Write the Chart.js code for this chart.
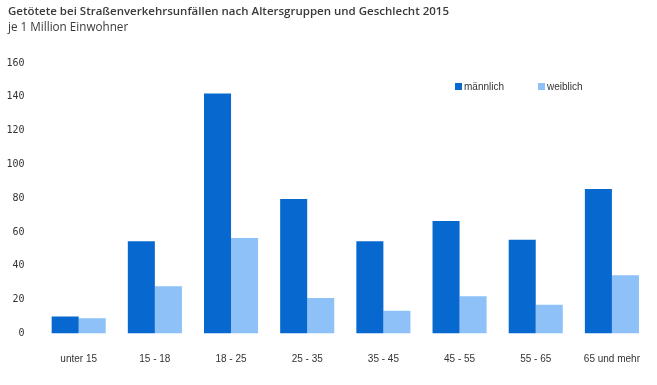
<!DOCTYPE html>
<html><head><meta charset="utf-8">
<script src="https://cdn.jsdelivr.net/npm/chart.js@4.4.1/dist/chart.umd.min.js"></script>
<style>html,body{margin:0;padding:0;background:#fff;}#wrap{width:657px;height:385px;position:relative;}</style>
</head><body><div id="wrap"><canvas id="c" width="657" height="385"></canvas></div>
<script>
const titleText = "Getötete bei Straßenverkehrsunfällen nach Altersgruppen und Geschlecht 2015";
const subtitleText = "je 1 Million Einwohner";
const categories = ["unter 15", "15 - 18", "18 - 25", "25 - 35", "35 - 45", "45 - 55", "55 - 65", "65 und mehr"];
const seriesNames = ["männlich", "weiblich"];
const maleValues = [10, 54.5, 142, 79.5, 54.5, 66.5, 55.5, 85.5];
const femaleValues = [9, 28, 56.5, 21, 13.5, 22, 17, 34.5];
const yTicks = [0, 20, 40, 60, 80, 100, 120, 140, 160];

const maleColor = "#0768d0";
const femaleColor = "#8dc1f7";

const overlay = {
  id: "overlay",
  afterDraw(chart) {
    const ctx = chart.ctx;
    ctx.save();
    ctx.fillStyle = "#3a3a3a";
    ctx.textBaseline = "middle";
    ctx.textAlign = "left";
    ctx.font = "600 11.5px 'Open Sans'";
    ctx.fillText(titleText, 8, 12);
    ctx.font = "11.7px 'Open Sans'";
    ctx.fillText(subtitleText, 8, 28);
    // legend
    const items = chart.data.datasets;
    const xs = [455, 538];
    ctx.font = "10px 'Liberation Sans'";
    items.forEach((ds, i) => {
      ctx.fillStyle = ds.backgroundColor;
      ctx.fillRect(xs[i], 83, 7, 7);
      ctx.fillStyle = "#333";
      ctx.fillText(ds.label, xs[i] + 9, 87);
    });
    ctx.restore();
  }
};

new Chart(document.getElementById("c"), {
  type: "bar",
  data: {
    labels: categories,
    datasets: [
      { label: seriesNames[0], data: maleValues, backgroundColor: maleColor },
      { label: seriesNames[1], data: femaleValues, backgroundColor: femaleColor }
    ]
  },
  options: {
    responsive: false,
    animation: false,
    devicePixelRatio: 1,
    layout: { padding: { left: 0, right: 7, top: 63, bottom: 0 } },
    datasets: { bar: { categoryPercentage: 0.71, barPercentage: 1.0 } },
    plugins: { legend: { display: false }, title: { display: false }, tooltip: { enabled: false } },
    scales: {
      x: {
        grid: { display: false },
        border: { display: false },
        ticks: { color: "#333", font: { family: "Liberation Sans", size: 10 }, padding: 12, maxRotation: 0 },
        afterFit(s) { s.height = 51.5; }
      },
      y: {
        min: 0, max: 160,
        afterBuildTicks(s) { s.ticks = yTicks.map(v => ({ value: v })); },
        grid: { display: false },
        border: { display: false },
        ticks: { color: "#333", font: { family: "DejaVu Sans Mono", size: 10 }, padding: 8 },
        afterFit(s) { s.width = 40.6; }
      }
    }
  },
  plugins: [overlay]
});
</script></body></html>
